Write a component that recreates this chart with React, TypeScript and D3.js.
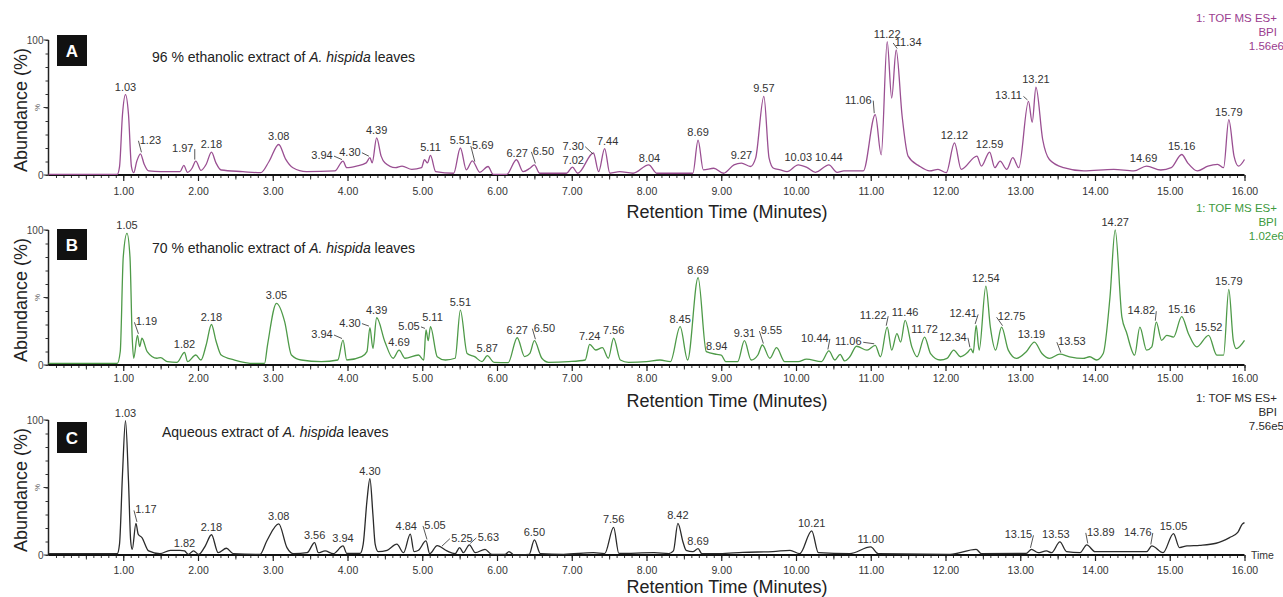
import * as d3 from "d3";
import React, { useEffect, useRef } from "react";

// [retention time (min), abundance (%)]
const traceA: [number, number][] = [
  [0, 0.5], [0.92, 0.5], [0.95, 6], [0.99, 45], [1.03, 59.5], [1.07, 45], [1.11, 6], [1.14, 1.7],
  [1.18, 10], [1.23, 15.7], [1.28, 8], [1.34, 3], [1.5, 2.5], [1.76, 2.5], [1.81, 7.1], [1.86, 2],
  [1.92, 5], [1.97, 10.3], [2.04, 3.5], [2.11, 8], [2.18, 17], [2.24, 9], [2.31, 3.7], [2.6, 2.5],
  [2.84, 1.7], [2.95, 10], [3.08, 22.6], [3.17, 12], [3.27, 5.4], [3.45, 2.5], [3.83, 3], [3.94, 10.3],
  [3.99, 5.4], [4.12, 6.6], [4.25, 9], [4.3, 12.8], [4.33, 9], [4.39, 27.5], [4.45, 14], [4.5, 9],
  [4.64, 5.4], [4.73, 6.6], [4.86, 4.2], [4.99, 5.4], [5.03, 11.3], [5.07, 9], [5.11, 14.5], [5.18, 2.5],
  [5.42, 1.3], [5.51, 20], [5.59, 3.8], [5.67, 10.5], [5.77, 2], [5.88, 6.3], [5.95, 0.5], [6.13, 0.5],
  [6.26, 11.3], [6.35, 2.5], [6.44, 5], [6.5, 7.5], [6.57, 1.3], [6.93, 1.3], [7.01, 5.8], [7.08, 1.3],
  [7.29, 16.3], [7.36, 2.5], [7.44, 19.5], [7.51, 1.3], [7.64, 2.5], [7.82, 1.3], [8.03, 7.5], [8.14, 1.3],
  [8.62, 1.3], [8.69, 25.8], [8.76, 3.8], [8.9, 5], [9.03, 1.3], [9.17, 7.5], [9.27, 8.8], [9.39, 6.3],
  [9.46, 12.5], [9.57, 58.3], [9.64, 12.5], [9.7, 5], [9.79, 3.8], [9.88, 2.5], [10.03, 7.5], [10.15, 5.5],
  [10.26, 2], [10.44, 7.5], [10.55, 2], [10.64, 3], [10.73, 3], [10.9, 3], [11.06, 44.7], [11.14, 15],
  [11.22, 98.8], [11.28, 57], [11.34, 92.6], [11.42, 43.5], [11.5, 14], [11.65, 6.6], [11.79, 3], [11.9, 4.2],
  [12.01, 1.7], [12.12, 23.8], [12.21, 4.2], [12.42, 14], [12.48, 6.6], [12.59, 17], [12.66, 5.4], [12.73, 10.3],
  [12.82, 4.2], [12.9, 12.8], [12.98, 5.4], [13.11, 54.5], [13.16, 39], [13.21, 65], [13.3, 26.3], [13.39, 11.5],
  [13.58, 5.4], [13.85, 3], [14.25, 4.2], [14.52, 3], [14.69, 6.6], [14.88, 3.7], [15.02, 5.4], [15.16, 15.2],
  [15.24, 9], [15.37, 3], [15.51, 6.6], [15.64, 7.9], [15.72, 5.4], [15.79, 41], [15.86, 14], [15.92, 6.6],
  [16, 11.5],
];

const traceB: [number, number][] = [
  [0, 1.2], [0.92, 1.2], [0.96, 10], [1.0, 80], [1.05, 97.5], [1.09, 80], [1.12, 20], [1.14, 5],
  [1.19, 22], [1.22, 13.6], [1.25, 19.8], [1.32, 9.9], [1.45, 5], [1.5, 5.4], [1.59, 2.5], [1.72, 2],
  [1.82, 9.4], [1.86, 2.5], [1.97, 7.4], [2.04, 3.7], [2.11, 15], [2.18, 30], [2.24, 18], [2.31, 7.4],
  [2.49, 3.7], [2.75, 1.2], [2.89, 1.2], [2.93, 14.8], [3.05, 45.7], [3.16, 32], [3.25, 7.4], [3.38, 3.7],
  [3.65, 2.5], [3.87, 3.7], [3.94, 18.5], [3.99, 3.7], [4.19, 6.2], [4.26, 9.9], [4.3, 27.7], [4.34, 12.3],
  [4.39, 35], [4.5, 17.3], [4.61, 5], [4.69, 11], [4.77, 5], [4.95, 7.4], [5.02, 3.7], [5.05, 26],
  [5.08, 18], [5.11, 28.4], [5.2, 6.2], [5.31, 3.7], [5.44, 5], [5.51, 40.7], [5.6, 8.6], [5.7, 6.2],
  [5.8, 2.5], [5.87, 6.9], [5.96, 2], [6.15, 1.7], [6.27, 20.2], [6.37, 6.2], [6.44, 8.6], [6.5, 18],
  [6.6, 5], [6.69, 2], [6.96, 2.5], [7.18, 3.7], [7.24, 15.3], [7.32, 11.1], [7.41, 12.8], [7.49, 5],
  [7.56, 19.8], [7.65, 3.7], [7.76, 2], [8.0, 2.5], [8.18, 3.7], [8.32, 2.5], [8.45, 28.4], [8.55, 3.7],
  [8.69, 64.7], [8.8, 9.9], [8.94, 7.9], [9.0, 7.4], [9.06, 2.5], [9.22, 2.5], [9.31, 18], [9.4, 3.7],
  [9.49, 7.4], [9.55, 14.8], [9.65, 5], [9.74, 12.8], [9.85, 2.5], [10.03, 2.5], [10.14, 4.4], [10.34, 2.5],
  [10.44, 10.4], [10.52, 3.7], [10.59, 7.9], [10.65, 3], [10.72, 6.1], [10.81, 13.9], [10.95, 11], [11.06, 14.6],
  [11.13, 6.1], [11.22, 28], [11.28, 11], [11.35, 23.2], [11.4, 17], [11.46, 33], [11.55, 13.4], [11.62, 6.1],
  [11.72, 20.7], [11.8, 8.5], [11.93, 3.7], [12.02, 4.9], [12.11, 11], [12.2, 6.1], [12.29, 9], [12.34, 12],
  [12.37, 9], [12.41, 29.3], [12.45, 11], [12.54, 58.5], [12.6, 28], [12.67, 11], [12.75, 28], [12.84, 11],
  [12.95, 4.9], [13.08, 9.8], [13.19, 17], [13.29, 8.5], [13.39, 4.9], [13.53, 8], [13.66, 6.1], [13.84, 4.9],
  [13.93, 6.1], [14.02, 3.7], [14.11, 8.5], [14.2, 50], [14.27, 100], [14.36, 35.4], [14.42, 24.4], [14.53, 7.3],
  [14.6, 28], [14.69, 11], [14.76, 13.4], [14.82, 31.7], [14.89, 18.3], [14.96, 22], [15.05, 20.7], [15.16, 35.9],
  [15.25, 23.2], [15.36, 13.4], [15.52, 22], [15.63, 7.3], [15.72, 7.3], [15.79, 56], [15.85, 18.3], [15.89, 12.2],
  [16, 18.3],
];

const traceC: [number, number][] = [
  [0, 1], [0.92, 1], [0.95, 8], [0.99, 60], [1.03, 99.5], [1.07, 55], [1.1, 10], [1.12, 4.2],
  [1.17, 23.4], [1.2, 15.4], [1.25, 12.9], [1.34, 3], [1.49, 1], [1.63, 3.5], [1.76, 3.5], [1.82, 3],
  [1.87, 0.5], [1.94, 3], [2.01, 0.5], [2.1, 7], [2.18, 15], [2.27, 1.7], [2.38, 5], [2.47, 1],
  [2.83, 0.5], [2.92, 10.4], [3.08, 23], [3.19, 5.5], [3.28, 1], [3.46, 1.7], [3.56, 9.2], [3.61, 1.7],
  [3.7, 3], [3.81, 1], [3.94, 6.7], [3.99, 1.2], [4.17, 1.2], [4.21, 8], [4.26, 40], [4.3, 56.5],
  [4.34, 30], [4.37, 8], [4.41, 2.5], [4.53, 3.5], [4.66, 8], [4.75, 1.7], [4.84, 15.4], [4.89, 2.5],
  [4.95, 3.5], [5.05, 10.4], [5.1, 1], [5.2, 7], [5.33, 3], [5.44, 1], [5.5, 5.5], [5.55, 1.7],
  [5.63, 7.5], [5.71, 1.7], [5.84, 4.2], [5.93, 0.5], [6.11, 0.5], [6.16, 2.5], [6.23, 0], [6.43, 0.5],
  [6.5, 11.2], [6.58, 1], [6.89, 0.5], [7.29, 1.7], [7.44, 1], [7.56, 20.4], [7.63, 1.2], [8.1, 1.7],
  [8.3, 1], [8.36, 3], [8.42, 23.4], [8.49, 9.2], [8.53, 3.5], [8.62, 2.5], [8.69, 4.7], [8.74, 1],
  [8.98, 1], [9.29, 2], [9.69, 2.5], [9.92, 3.5], [10.05, 1], [10.21, 17.9], [10.3, 1.7], [10.72, 1],
  [11.0, 6], [11.1, 1], [12.06, 0.5], [12.41, 4.2], [12.48, 1], [13.08, 1.2], [13.15, 4.2], [13.24, 1.7],
  [13.35, 3], [13.42, 1.7], [13.53, 9.7], [13.62, 2.5], [13.8, 1.7], [13.89, 7.5], [14.0, 2.5], [14.69, 2.5],
  [14.76, 6.7], [14.91, 1.7], [15.05, 15.9], [15.13, 5.5], [15.23, 6.7], [15.4, 7.2], [15.62, 8.7], [15.8, 12.9],
  [15.91, 16.7], [15.97, 22.9], [16, 24],
];

// annotated peaks (retention times printed on the chart)
const peaksA = ["1.03", "1.23", "1.97", "2.18", "3.08", "3.94", "4.30", "4.39", "5.11", "5.51", "5.69", "6.27",
  "6.50", "7.02", "7.30", "7.44", "8.04", "8.69", "9.27", "9.57", "10.03", "10.44", "11.06", "11.22", "11.34",
  "12.12", "12.59", "13.11", "13.21", "14.69", "15.16", "15.79"];
const peaksB = ["1.05", "1.19", "1.82", "2.18", "3.05", "3.94", "4.30", "4.39", "4.69", "5.05", "5.11", "5.51",
  "5.87", "6.27", "6.50", "7.24", "7.56", "8.45", "8.69", "8.94", "9.31", "9.55", "10.44", "11.06", "11.22",
  "11.46", "11.72", "12.34", "12.41", "12.54", "12.75", "13.19", "13.53", "14.27", "14.82", "15.16", "15.52", "15.79"];
const peaksC = ["1.03", "1.17", "1.82", "2.18", "3.08", "3.56", "3.94", "4.30", "4.84", "5.05", "5.25", "5.63",
  "6.50", "7.56", "8.42", "8.69", "10.21", "11.00", "13.15", "13.53", "13.89", "14.76", "15.05"];

const scanA = ["1: TOF MS ES+", "BPI", "1.56e6"];
const scanB = ["1: TOF MS ES+", "BPI", "1.02e6"];
const scanC = ["1: TOF MS ES+", "BPI", "7.56e5"];

const xTickLabels = d3.range(1, 17).map((d) => d.toFixed(2));

// label nudges (px) so the text sits where the original put it
const nudgeA: Record<string, [number, number]> = {
  "1.23": [10, -6], "1.97": [-13, -5], "3.94": [-21, 2], "4.30": [-20, 2], "5.69": [9, -10], "6.50": [9, -6],
  "7.30": [-21, -2], "7.44": [3, 0], "11.06": [-17, -7], "11.34": [12, 0], "13.11": [-20, 2], "14.69": [-3, 0],
};
const nudgeB: Record<string, [number, number]> = {
  "1.19": [9, -6], "3.94": [-21, 2], "4.30": [-20, 3], "5.05": [-17, 4], "5.11": [2, -2], "6.50": [10, -5],
  "9.55": [9, -7], "10.44": [-14, -5], "11.06": [-27, 4], "11.22": [-14, -4], "12.34": [-18, -4],
  "12.41": [-13, -4], "12.75": [10, -3], "13.19": [-3, 0], "13.53": [12, -5], "14.82": [-15, -4],
};
const nudgeC: Record<string, [number, number]> = {
  "1.17": [10, -6], "4.84": [-4, 0], "5.05": [9, -8], "5.25": [21, -2], "5.63": [19, 0], "13.15": [-13, -7],
  "13.53": [-4, 0], "13.89": [14, -5], "14.76": [-14, -6],
};

const FONT = "'Liberation Sans', Arial, Helvetica, sans-serif";

const panels = [
  { letter: "A", pre: "96 % ethanolic extract of ", trace: traceA, peaks: peaksA, nudge: nudgeA, scan: scanA,
    color: "#9a4f92", textColor: "#9b3d8f", top: 40, box: 35, titleX: 152, titleY: 62, tickY: 22, axisTitleY: 218 },
  { letter: "B", pre: "70 % ethanolic extract of ", trace: traceB, peaks: peaksB, nudge: nudgeB, scan: scanB,
    color: "#4e9a48", textColor: "#3d9a3d", top: 230, box: 229, titleX: 152, titleY: 253, tickY: 18.5, axisTitleY: 407 },
  { letter: "C", pre: "Aqueous extract of ", trace: traceC, peaks: peaksC, nudge: nudgeC, scan: scanC,
    color: "#2b2b2b", textColor: "#2b2b2b", top: 420, box: 422, titleX: 162, titleY: 437, tickY: 20.5, axisTitleY: 593 },
];

const App = () => {
  const node = useRef<SVGSVGElement>(null);

  useEffect(() => {
    const svg = d3.select(node.current);
    svg.selectAll("*").remove();
    const x = d3.scaleLinear().domain([0, 16]).range([48.5, 1244.5]);

    panels.forEach((p) => {
      const y = d3.scaleLinear().domain([0, 100]).range([p.top + 135, p.top]);
      const g = svg.append("g").attr("font-family", FONT);
      const y0 = y(0);

      // y axis minor ticks
      const ya = g.append("g").attr("transform", `translate(${x(0)},0)`)
        .call(d3.axisLeft(y).tickValues(d3.range(0, 101, 10)).tickSize(3).tickSizeOuter(0).tickFormat(() => ""));
      ya.select(".domain").remove();
      ya.selectAll("line").attr("stroke", "#333");
      g.append("line").attr("x1", x(0)).attr("x2", x(0)).attr("y1", y(100)).attr("y2", y0)
        .attr("stroke", "#222").attr("stroke-width", 1.5);
      [0, 50, 100].forEach((v) => {
        g.append("line").attr("x1", x(0) - 5).attr("x2", x(0)).attr("y1", y(v)).attr("y2", y(v))
          .attr("stroke", "#333");
      });
      g.append("text").attr("x", x(0) - 5).attr("y", y(100) + 3.5).attr("text-anchor", "end")
        .attr("font-size", 10).attr("fill", "#444").text("100");
      g.append("text").attr("x", x(0) - 5).attr("y", y0 + 3.5).attr("text-anchor", "end")
        .attr("font-size", 10).attr("fill", "#444").text("0");
      g.append("text").attr("transform", `translate(${x(0) - 9},${y(50)}) rotate(-90)`)
        .attr("text-anchor", "middle").attr("font-size", 8).attr("fill", "#555").text("%");

      // x axis: minor, half and whole minute ticks
      const minor = g.append("g").attr("transform", `translate(0,${y0})`)
        .call(d3.axisBottom(x).tickValues(d3.range(1, 161).map((i) => i / 10)).tickSize(3).tickSizeOuter(0).tickFormat(() => ""));
      minor.select(".domain").remove();
      minor.selectAll("line").attr("stroke", "#333");
      const half = g.append("g").attr("transform", `translate(0,${y0})`)
        .call(d3.axisBottom(x).tickValues(d3.range(0.5, 16, 1)).tickSize(4.5).tickSizeOuter(0).tickFormat(() => ""));
      half.select(".domain").remove();
      half.selectAll("line").attr("stroke", "#333");
      const major = g.append("g").attr("transform", `translate(0,${y0})`)
        .call(d3.axisBottom(x).tickValues(d3.range(1, 17)).tickSize(6).tickSizeOuter(0)
          .tickFormat((d, i) => xTickLabels[i]));
      major.select(".domain").remove();
      major.selectAll("line").attr("stroke", "#222").attr("stroke-width", 1.2);
      major.selectAll("text").attr("y", p.tickY - 9).attr("font-size", 10.5).attr("fill", "#333")
        .attr("font-family", FONT);
      g.append("line").attr("x1", x(0)).attr("x2", x(16)).attr("y1", y0).attr("y2", y0)
        .attr("stroke", "#111").attr("stroke-width", 2);

      // chromatogram trace
      const line = d3.line<[number, number]>().x((d) => x(d[0])).y((d) => y(d[1])).curve(d3.curveMonotoneX);
      g.append("path").datum(p.trace).attr("fill", "none").attr("stroke", p.color)
        .attr("stroke-width", 1.3).attr("stroke-linejoin", "round").attr("d", line);

      // peak annotations
      const bis = d3.bisector((d: [number, number]) => d[0]).left;
      const valueAt = (t: number) => {
        const i = bis(p.trace, t);
        if (i <= 0) return p.trace[0][1];
        const a = p.trace[i - 1], b = p.trace[i];
        if (!b) return a[1];
        return a[1] + ((b[1] - a[1]) * (t - a[0])) / (b[0] - a[0]);
      };
      p.peaks.forEach((lab) => {
        const t = +lab;
        const ax = x(t), ay = y(valueAt(t));
        const [dx, dy] = p.nudge[lab] || [0, 0];
        const lx = ax + dx, ly = ay - 4 + dy;
        g.append("text").attr("x", lx).attr("y", ly).attr("text-anchor", "middle")
          .attr("font-size", 11).attr("fill", "#333").text(lab);
        if (Math.abs(dx) >= 8) {
          const hw = lab.length * 3;
          g.append("line").attr("x1", lx + (dx > 0 ? -hw : hw)).attr("y1", ly - 3)
            .attr("x2", ax + (dx > 0 ? 1 : -1)).attr("y2", ay - 1.5)
            .attr("stroke", "#444").attr("stroke-width", 0.9);
        }
      });

      // panel letter + title
      g.append("rect").attr("x", 57).attr("y", p.box).attr("width", 30).attr("height", 31).attr("fill", "#111");
      g.append("text").attr("x", 72).attr("y", p.box + 21.5).attr("text-anchor", "middle")
        .attr("font-size", 17).attr("font-weight", "bold").attr("fill", "#fff").text(p.letter);
      const title = g.append("text").attr("x", p.titleX).attr("y", p.titleY).attr("font-size", 14).attr("fill", "#222");
      title.append("tspan").text(p.pre);
      title.append("tspan").attr("font-style", "italic").text("A. hispida");
      title.append("tspan").text(" leaves");

      // y axis title
      g.append("text").attr("transform", `translate(27,${p.top + 70}) rotate(-90)`)
        .attr("text-anchor", "middle").attr("font-size", 18).attr("fill", "#222").text("Abundance (%)");
      // x axis title
      g.append("text").attr("x", 727).attr("y", p.axisTitleY).attr("text-anchor", "middle")
        .attr("font-size", 18).attr("fill", "#222").text("Retention Time (Minutes)");

      // instrument info, top right
      p.scan.forEach((s, i) => {
        g.append("text").attr("x", i === 2 ? 1284 : 1277).attr("y", p.top - 18 + i * 13.8)
          .attr("text-anchor", "end").attr("font-size", 11.5).attr("fill", p.textColor).text(s);
      });
      if (p.letter === "C") {
        g.append("text").attr("x", 1251).attr("y", y0 + 4).attr("font-size", 10.5).attr("fill", "#333").text("Time");
      }
    });

    return () => {
      svg.selectAll("*").remove();
    };
  }, []);

  return (
    <svg
      ref={node}
      width={1283}
      height={597}
      style={{ position: "absolute", left: 0, top: 0, display: "block", background: "#fff" }}
    />
  );
};

export default App;
